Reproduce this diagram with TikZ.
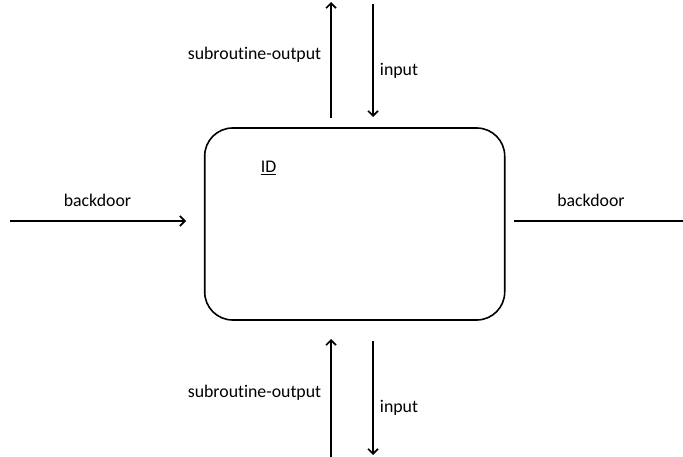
\documentclass[tikz,border=0pt]{standalone}
\usepackage{fontspec}
\setmainfont{Carlito}[Ligatures=NoCommon]
\usetikzlibrary{arrows.meta}
\begin{document}
\begin{tikzpicture}[x=1pt,y=-1pt,
  line width=1.6pt,
  flow/.style={-{Straight Barb[length=5pt,width=10pt,line width=1.6pt]}},
  lbl/.style={font=\fontsize{17.8}{20}\selectfont, inner sep=0pt},
  unit/.style={draw, rounded corners=28pt, minimum width=300pt, minimum height=192pt, inner sep=0pt}]
  \useasboundingbox (0,0) rectangle (683,457);
  % central block
  \node[unit] (id) at (354.7,224) {};
  \node[lbl] (idlabel) at (268.5,168) {\underline{ID}};
  % top interface
  \coordinate (tuA) at (331,118);
  \coordinate (tuB) at (331,2);
  \coordinate (tdA) at (373,4);
  \coordinate (tdB) at (373,117);
  \draw[flow] (tuA) -- (tuB);
  \draw[flow] (tdA) -- (tdB);
  \node[lbl] (tso) at (254.5,55) {subroutine-output};
  \node[lbl] (tin) at (399,71) {input};
  % bottom interface
  \coordinate (buA) at (331,457);
  \coordinate (buB) at (331,339);
  \coordinate (bdA) at (373,341);
  \coordinate (bdB) at (373,455);
  \draw[flow] (buA) -- (buB);
  \draw[flow] (bdA) -- (bdB);
  \node[lbl] (bso) at (254.5,393) {subroutine-output};
  \node[lbl] (bin) at (399,408) {input};
  % left backdoor
  \coordinate (lA) at (10,221);
  \coordinate (lB) at (186,221);
  \draw[flow] (lA) -- (lB);
  \node[lbl] (lbd) at (97.5,200) {backdoor};
  % right backdoor
  \coordinate (rA) at (514,221);
  \coordinate (rB) at (683,221);
  \draw (rA) -- (rB);
  \node[lbl] (rbd) at (591,200) {backdoor};
\end{tikzpicture}
\end{document}
